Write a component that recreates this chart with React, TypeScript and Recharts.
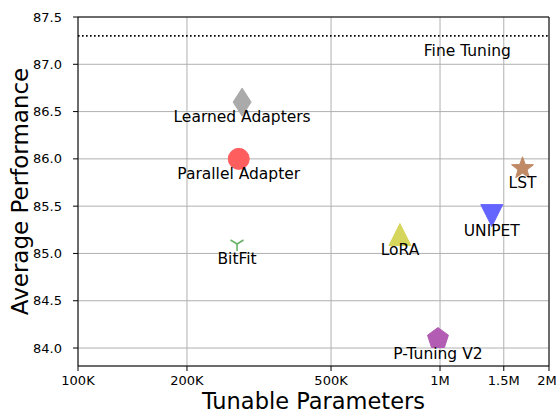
import React from "react";
import {
  ScatterChart,
  Scatter,
  XAxis,
  YAxis,
  CartesianGrid,
  ReferenceLine,
} from "recharts";

const methods = [
  "Learned Adapters",
  "Parallel Adapter",
  "BitFit",
  "LoRA",
  "UNIPET",
  "LST",
  "P-Tuning V2",
];
const params = [284000, 278000, 275000, 775000, 1390000, 1690000, 987000];
const scores = [86.6, 86.0, 85.1, 85.2, 85.4, 85.9, 84.1];

const fineTuningName = "Fine Tuning";
const fineTuningScore = 87.3;
const fineTuningLabelParams = 1190000;

const xTicks = [100000, 200000, 500000, 1000000, 1500000, 2000000];
const xTickLabels = ["100K", "200K", "500K", "1M", "1.5M", "2M"];
const yTicks = [84.0, 84.5, 85.0, 85.5, 86.0, 86.5, 87.0, 87.5];

const FONT = "'DejaVu Sans', sans-serif";

const markerStyle: Record<string, { kind: string; color: string }> = {
  "Learned Adapters": { kind: "thinDiamond", color: "#aaaaaa" },
  "Parallel Adapter": { kind: "circle", color: "#ff5e5e" },
  BitFit: { kind: "triDown", color: "#66b366" },
  LoRA: { kind: "triUp", color: "#d6d65c" },
  UNIPET: { kind: "triDown2", color: "#6464ff" },
  LST: { kind: "star", color: "#c08a66" },
  "P-Tuning V2": { kind: "pentagon", color: "#b35cb3" },
};

const points = methods.map((name, i) => ({ name, x: params[i], y: scores[i] }));
const fineTuningPoint = [{ name: fineTuningName, x: fineTuningLabelParams, y: fineTuningScore }];

function polygon(cx: number, cy: number, n: number, rOuter: number, rInner?: number) {
  const pts: string[] = [];
  const total = rInner ? n * 2 : n;
  for (let k = 0; k < total; k++) {
    const r = rInner && k % 2 === 1 ? rInner : rOuter;
    const a = -Math.PI / 2 + (k * 2 * Math.PI) / total;
    pts.push(`${cx + r * Math.cos(a)},${cy + r * Math.sin(a)}`);
  }
  return pts.join(" ");
}

function Marker({ kind, color, cx, cy }: { kind: string; color: string; cx: number; cy: number }) {
  switch (kind) {
    case "thinDiamond":
      return (
        <polygon
          points={`${cx},${cy - 14} ${cx + 9},${cy} ${cx},${cy + 14} ${cx - 9},${cy}`}
          fill={color}
          stroke={color}
        />
      );
    case "circle":
      return <circle cx={cx} cy={cy} r={10.5} fill={color} stroke={color} />;
    case "triDown":
      return (
        <g stroke={color} strokeWidth={1.6}>
          <line x1={cx} y1={cy} x2={cx} y2={cy + 7} />
          <line x1={cx} y1={cy} x2={cx - 6.5} y2={cy - 4} />
          <line x1={cx} y1={cy} x2={cx + 6.5} y2={cy - 4} />
        </g>
      );
    case "triUp":
      return (
        <polygon
          points={`${cx},${cy - 11} ${cx + 11},${cy + 11} ${cx - 11},${cy + 11}`}
          fill={color}
          stroke={color}
        />
      );
    case "triDown2":
      return (
        <polygon
          points={`${cx - 11},${cy - 11} ${cx + 11},${cy - 11} ${cx},${cy + 11}`}
          fill={color}
          stroke={color}
        />
      );
    case "star":
      return <polygon points={polygon(cx, cy, 5, 11.5, 4.8)} fill={color} stroke={color} />;
    case "pentagon":
      return <polygon points={polygon(cx, cy, 5, 11)} fill={color} stroke={color} />;
    default:
      return null;
  }
}

function MethodShape(props: any) {
  const { cx, cy, payload } = props;
  const style = markerStyle[payload.name];
  return (
    <g>
      {style && <Marker kind={style.kind} color={style.color} cx={cx} cy={cy} />}
      <text
        x={cx}
        y={cy + 15}
        textAnchor="middle"
        dominantBaseline="central"
        fontSize={15.5}
        fontFamily={FONT}
        fill="#000"
      >
        {payload.name}
      </text>
    </g>
  );
}

function LabelOnly(props: any) {
  const { cx, cy, payload } = props;
  return (
    <text
      x={cx}
      y={cy + 15}
      textAnchor="middle"
      dominantBaseline="central"
      fontSize={15.5}
      fontFamily={FONT}
      fill="#000"
    >
      {payload.name}
    </text>
  );
}

export default function App() {
  return (
    <div style={{ position: "absolute", left: 0, top: 0, background: "#fff", fontFamily: FONT }}>
      <ScatterChart width={556} height={412} margin={{ top: 17, right: 7, bottom: 0, left: 0 }}>
        <CartesianGrid stroke="#b0b0b0" strokeWidth={1} />
        <XAxis
          type="number"
          dataKey="x"
          scale="log"
          domain={[100000, 2000000]}
          ticks={xTicks}
          allowDataOverflow
          tickFormatter={(v: number) => xTickLabels[xTicks.indexOf(v)] ?? String(v)}
          height={46}
          tickSize={5}
          tickMargin={5}
          stroke="#000"
          tick={{ fontSize: 13, fill: "#000", fontFamily: FONT }}
          label={{
            value: "Tunable Parameters",
            position: "insideBottom",
            offset: 3,
            fontSize: 22.5,
            fill: "#000",
            fontFamily: FONT,
          }}
        />
        <YAxis
          type="number"
          dataKey="y"
          domain={[83.81, 87.5]}
          ticks={yTicks}
          allowDataOverflow
          tickFormatter={(v: number) => v.toFixed(1)}
          width={78}
          tickSize={5}
          tickMargin={11}
          stroke="#000"
          tick={{ fontSize: 13, fill: "#000", fontFamily: FONT }}
          label={{
            value: "Average Performance",
            angle: -90,
            position: "insideLeft",
            offset: 20,
            fontSize: 23,
            fill: "#000",
            fontFamily: FONT,
            style: { textAnchor: "middle" },
          }}
        />
        <ReferenceLine y={87.5} stroke="#000" strokeWidth={1} />
        <ReferenceLine x={2000000} stroke="#000" strokeWidth={1} />
        <ReferenceLine
          y={fineTuningScore}
          stroke="#000"
          strokeWidth={1.6}
          strokeDasharray="1.6 2.4"
        />
        <Scatter data={fineTuningPoint} shape={<LabelOnly />} isAnimationActive={false} />
        <Scatter data={points} shape={<MethodShape />} isAnimationActive={false} />
      </ScatterChart>
    </div>
  );
}
